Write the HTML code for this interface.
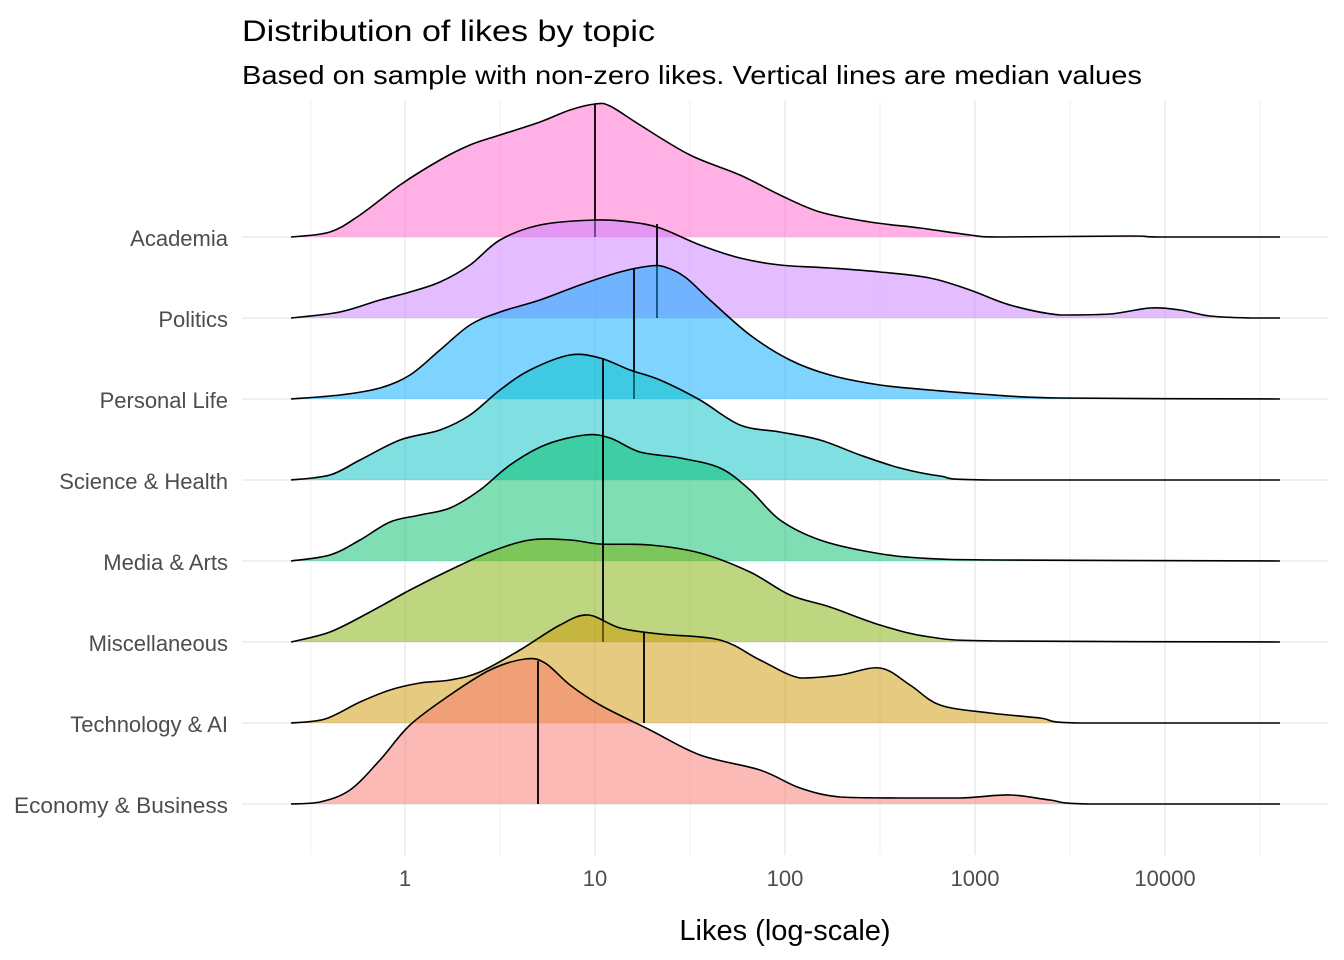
<!DOCTYPE html>
<html><head><meta charset="utf-8"><style>
body{margin:0;background:#fff}
svg{display:block;font-family:"Liberation Sans",Arial,sans-serif}
</style></head><body>
<svg id="s" width="1344" height="960" viewBox="0 0 1344 960" xmlns="http://www.w3.org/2000/svg">
<rect width="1344" height="960" fill="#fff"/>
<g id="grid"></g>
<g id="ridges"></g>
<text x="242" y="41" font-size="30" fill="#000" textLength="413" lengthAdjust="spacingAndGlyphs">Distribution of likes by topic</text>
<text x="242" y="84" font-size="26" fill="#000" textLength="900" lengthAdjust="spacingAndGlyphs">Based on sample with non-zero likes. Vertical lines are median values</text>
<g font-size="22" fill="#4d4d4d" text-anchor="end">
<text x="228" y="246">Academia</text>
<text x="228" y="327">Politics</text>
<text x="228" y="408">Personal Life</text>
<text x="228" y="489">Science &amp; Health</text>
<text x="228" y="570">Media &amp; Arts</text>
<text x="228" y="651">Miscellaneous</text>
<text x="228" y="732">Technology &amp; AI</text>
<text x="228" y="813" textLength="214" lengthAdjust="spacingAndGlyphs">Economy &amp; Business</text>
</g>
<g font-size="22" fill="#4d4d4d" text-anchor="middle">
<text x="405" y="886">1</text>
<text x="595" y="886">10</text>
<text x="785" y="886">100</text>
<text x="975" y="886">1000</text>
<text x="1165" y="886">10000</text>
</g>
<text x="785" y="940" font-size="29" text-anchor="middle" fill="#000">Likes (log-scale)</text>
</svg>
<script>
var NS="http://www.w3.org/2000/svg";
function el(p,t,a){var e=document.createElementNS(NS,t);for(var k in a)e.setAttribute(k,a[k]);p.appendChild(e);return e;}
var g=document.getElementById('grid');
[311,500,690,880,1070,1260].forEach(function(x){el(g,'line',{x1:x,x2:x,y1:100,y2:855,stroke:'#f0f0f0','stroke-width':1});});
[405,595,785,975,1165].forEach(function(x){el(g,'line',{x1:x,x2:x,y1:100,y2:855,stroke:'#e6e6e6','stroke-width':1.3});});
[237,318,399,480,561,642,723,804].forEach(function(y){el(g,'line',{x1:242,x2:1328,y1:y,y2:y,stroke:'#e6e6e6','stroke-width':1.3});});
function smooth(p){var d='M'+p[0][0]+','+p[0][1];for(var i=0;i<p.length-1;i++){var p0=p[i-1]||p[i],p1=p[i],p2=p[i+1],p3=p[i+2]||p2;
var c1x=p1[0]+(p2[0]-p0[0])/6,c1y=p1[1]+(p2[1]-p0[1])/6,c2x=p2[0]-(p3[0]-p1[0])/6,c2y=p2[1]-(p3[1]-p1[1])/6;
if(c1y>Math.max(p1[1],p2[1]))c1y=Math.max(p1[1],p2[1]);if(c2y>Math.max(p1[1],p2[1]))c2y=Math.max(p1[1],p2[1]);
d+=' C'+c1x.toFixed(1)+','+c1y.toFixed(1)+' '+c2x.toFixed(1)+','+c2y.toFixed(1)+' '+p2[0]+','+p2[1];}return d;}
var R=[
['#FF61CC',237,595,104,[[291,237],[330,232],[360,215],[400,185],[440,160],[470,145],[500,135],[540,122],[570,110],[595,104],[610,106],[640,125],[690,155],[740,175],[780,195],[820,212],[870,222],[920,228],[970,235],[1000,237],[1130,236],[1160,237],[1280,237]]],
['#C77CFF',318,657,224,[[291,318],[340,312],[380,300],[410,292],[440,282],[470,265],[500,240],[540,225],[595,220],[630,222],[660,228],[700,245],[740,258],[780,265],[830,268],[880,272],[930,278],[970,290],[1010,305],[1060,315],[1110,314],[1150,308],[1180,310],[1210,316],[1250,318],[1280,318]]],
['#00A9FF',399,634,269,[[291,399],[340,395],[380,388],[410,375],[440,350],[470,325],[500,312],[540,300],[580,285],[620,272],[650,266],[665,267],[685,277],[710,300],[750,335],[790,360],[830,375],[880,385],[930,390],[980,394],[1060,398],[1280,399]]],
['#00BFC4',480,603,358,[[291,480],[330,475],[360,460],[400,440],[440,430],[470,415],[500,390],[530,370],[570,355],[600,358],[630,370],[660,380],[700,400],[740,425],[780,432],[820,440],[860,455],[900,468],[940,476],[990,480],[1280,480]]],
['#00BE67',561,603,436,[[291,561],[330,555],[360,540],[390,522],[420,515],[450,508],[480,490],[510,465],[545,445],[585,435],[610,438],[640,452],[680,458],[720,468],[750,490],[780,520],[820,540],[870,552],[920,558],[1000,560],[1280,561]]],
['#7CAE00',642,603,542,[[291,642],[330,632],[370,612],[410,590],[450,570],[490,552],[530,540],[570,540],[600,544],[650,545],[700,553],[750,572],[790,595],[830,607],[880,625],[930,637],[1000,641],[1280,642]]],
['#CD9600',723,644,632,[[291,723],[325,719],[360,702],[390,690],[420,683],[450,680],[480,672],[520,650],[560,625],[588,615],[620,628],[660,634],[720,640],[760,660],[800,678],[840,675],[880,668],[910,685],[940,705],[990,713],[1040,718],[1080,723],[1280,723]]],
['#F8766D',804,538,661,[[291,804],[320,802],[350,790],[380,760],[410,725],[450,695],[490,670],[525,659],[545,663],[570,685],[600,705],[650,730],[700,755],[760,770],[800,788],[840,797],[900,798],[960,798],[1010,795],[1050,800],[1090,804],[1280,804]]]
];
var rg=document.getElementById('ridges');
R.forEach(function(r){var d=smooth(r[4]);
el(rg,'path',{d:d+' Z',fill:r[0],'fill-opacity':0.5,stroke:'none'});
el(rg,'path',{d:d,fill:'none',stroke:'#000','stroke-width':1.6});
el(rg,'line',{x1:r[2],x2:r[2],y1:r[3],y2:r[1],stroke:'#000','stroke-width':1.8});
});
</script>
</body></html>
